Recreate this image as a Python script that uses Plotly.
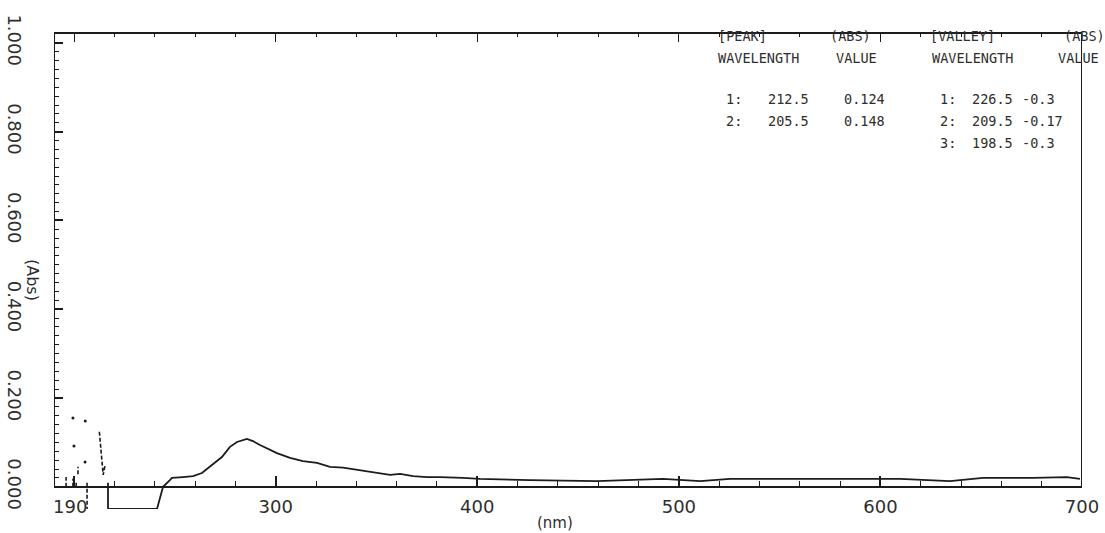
import numpy as np
import plotly.graph_objects as go

# ---- spectrum data (wavelength in nm, absorbance) ----
wavelength = [216.8, 216.8, 241.1, 244.1, 247.5, 248.5, 254.0, 259.0, 263.4, 268.4,
              273.3, 277.3, 280.8, 285.7, 288.7, 292.2, 295.7, 300.6, 307.1, 313.5,
              320.5, 326.9, 333.4, 340.3, 345.3, 351.7, 356.7, 361.7, 368.1, 375.0,
              381.5, 392.9, 401.3, 426.1, 459.4, 492.1, 510.5, 525.4, 560.1, 609.7,
              634.5, 650.9, 675.7, 692.5, 699.0]
absorbance = [0.009, -0.050, -0.050, 0.000, 0.015, 0.020, 0.022, 0.024, 0.031, 0.049,
              0.067, 0.090, 0.101, 0.108, 0.103, 0.094, 0.087, 0.076, 0.065, 0.058,
              0.054, 0.045, 0.043, 0.038, 0.034, 0.031, 0.027, 0.029, 0.024, 0.022,
              0.022, 0.020, 0.018, 0.015, 0.013, 0.018, 0.013, 0.018, 0.018, 0.018,
              0.013, 0.020, 0.020, 0.022, 0.018]

# broken trace segments in the noisy far-UV region (None splits segments)
uv_wavelength = [212.5, 213.0, 213.6, 214.4, 215.4, None,
                 206.4, 206.4, None,
                 196.0, 196.0, None,
                 199.4, 199.4, None,
                 201.0, 201.0, None,
                 201.9, 201.9]
uv_absorbance = [0.124, 0.095, 0.060, 0.027, 0.050, None,
                 0.009, -0.050, None,
                 0.000, 0.022, None,
                 0.000, 0.018, None,
                 0.000, 0.012, None,
                 0.028, 0.045]

# isolated points in the same region
dot_wavelength = [205.5, 199.4, 199.9, 205.4]
dot_absorbance = [0.148, 0.155, 0.092, 0.056]

# axis ticks
x_tickvals = [200, 300, 400, 500, 600, 700]
x_ticktext = ["", "300", "400", "500", "600", "700"]
y_tickvals = [0.0, 0.2, 0.4, 0.6, 0.8, 1.0]
y_ticktext = ["0.000", "0.200", "0.400", "0.600", "0.800", "1.000"]
y_minor = [round(v, 2) for v in np.arange(0.02, 1.0, 0.02) if round(v * 5, 6) % 1 != 0]

# peak / valley table
peak_rows = [("1:", "212.5", "0.124"), ("2:", "205.5", "0.148")]
valley_rows = [("1:", "226.5", "-0.3"), ("2:", "209.5", "-0.17"), ("3:", "198.5", "-0.3")]

X_RANGE = [190, 700]
Y_RANGE = [-0.05, 1.02]

W, H = 1105, 533
ML, MR, MT, MB = 54, 23, 34, 24
PW, PH = W - ML - MR, H - MT - MB

INK = "#1c1c1c"
TEXT = "#2e2e2e"
MONO = "DejaVu Sans Mono"
SANS = "DejaVu Sans"


def px(x):
    return (x - ML) / PW


def py(y):
    return (H - MB - y) / PH


fig = go.Figure()

fig.add_trace(go.Scatter(x=wavelength, y=absorbance, mode="lines",
                         line=dict(color=INK, width=1.8), hoverinfo="skip"))
fig.add_trace(go.Scatter(x=uv_wavelength, y=uv_absorbance, mode="lines",
                         line=dict(color=INK, width=1.6, dash="4px,2px"),
                         connectgaps=False, hoverinfo="skip"))
fig.add_trace(go.Scatter(x=dot_wavelength, y=dot_absorbance, mode="markers",
                         marker=dict(color=INK, size=3), hoverinfo="skip"))
# carrier for the top frame axis
fig.add_trace(go.Scatter(x=X_RANGE, y=[None, None], xaxis="x2", mode="lines",
                         showlegend=False, hoverinfo="skip"))

zero_pos = (0 - Y_RANGE[0]) / (Y_RANGE[1] - Y_RANGE[0])

fig.update_layout(
    width=W, height=H,
    margin=dict(l=ML, r=MR, t=MT, b=MB, autoexpand=False),
    paper_bgcolor="white", plot_bgcolor="white",
    showlegend=False,
    xaxis=dict(range=X_RANGE, anchor="free", position=zero_pos, automargin=False,
               showline=True, linecolor=INK, linewidth=2,
               ticks="inside", ticklen=10, tickwidth=1.6, tickcolor=INK,
               tickvals=x_tickvals, ticktext=x_ticktext,
               tickfont=dict(family=SANS, size=18, color=TEXT),
               ticklabelstandoff=4,
               minor=dict(dtick=20, ticks="inside", ticklen=5, tickwidth=1.3, tickcolor=INK),
               showgrid=False, zeroline=False),
    xaxis2=dict(range=X_RANGE, overlaying="x", side="top", anchor="y", automargin=False,
                showline=True, linecolor=INK, linewidth=2,
                ticks="inside", ticklen=8, tickwidth=1.4, tickcolor=INK,
                tickvals=x_tickvals, showticklabels=False,
                minor=dict(dtick=20, ticks="inside", ticklen=3, tickwidth=1.2, tickcolor=INK),
                showgrid=False, zeroline=False),
    yaxis=dict(range=Y_RANGE, showline=False, automargin=False,
               ticks="inside", ticklen=9, tickwidth=1.6, tickcolor=INK,
               tickvals=y_tickvals, ticktext=y_ticktext, tickangle=90,
               tickfont=dict(family=SANS, size=18, color=TEXT),
               ticklabelstandoff=27,
               minor=dict(tickvals=y_minor, ticks="inside", ticklen=5, tickwidth=1.2, tickcolor=INK),
               showgrid=False, zeroline=False),
)

# left and right frame lines, from the baseline up to the top frame
fig.add_shape(type="line", x0=X_RANGE[0], x1=X_RANGE[0], y0=0, y1=Y_RANGE[1],
              xref="x", yref="y", line=dict(color=INK, width=2))
fig.add_shape(type="line", x0=X_RANGE[1], x1=X_RANGE[1], y0=0, y1=Y_RANGE[1],
              xref="x", yref="y", line=dict(color=INK, width=2))

annotations = []


def label(text, x, y, size=13.5, family=MONO, anchor="left", angle=0):
    annotations.append(dict(text=text, x=px(x), y=py(y), xref="paper", yref="paper",
                            xanchor=anchor, yanchor="middle", showarrow=False,
                            textangle=angle,
                            font=dict(family=family, size=size, color=TEXT)))


# first x tick label and axis titles
label("190", 51, 506, size=18, family=SANS)
label("(nm)", 555, 523, size=15, family=SANS, anchor="center")
label("(Abs)", 33, 280, size=16, family=SANS, anchor="center", angle=90)

# peak / valley table
label("[PEAK]", 716, 36)
label("(ABS)", 828, 36)
label("[VALLEY]", 928, 36)
label("(ABS)", 1062, 36)
label("WAVELENGTH", 716, 58)
label("VALUE", 834, 58)
label("WAVELENGTH", 930, 58)
label("VALUE", 1056, 58)

row_y = [99, 121, 143]
for i, (n, wl, val) in enumerate(peak_rows):
    label(n, 724, row_y[i])
    label(wl, 766, row_y[i])
    label(val, 842, row_y[i])
for i, (n, wl, val) in enumerate(valley_rows):
    label(n, 938, row_y[i])
    label(wl, 970, row_y[i])
    label(val, 1020, row_y[i])

fig.update_layout(annotations=annotations)

fig.write_html("out.html")
